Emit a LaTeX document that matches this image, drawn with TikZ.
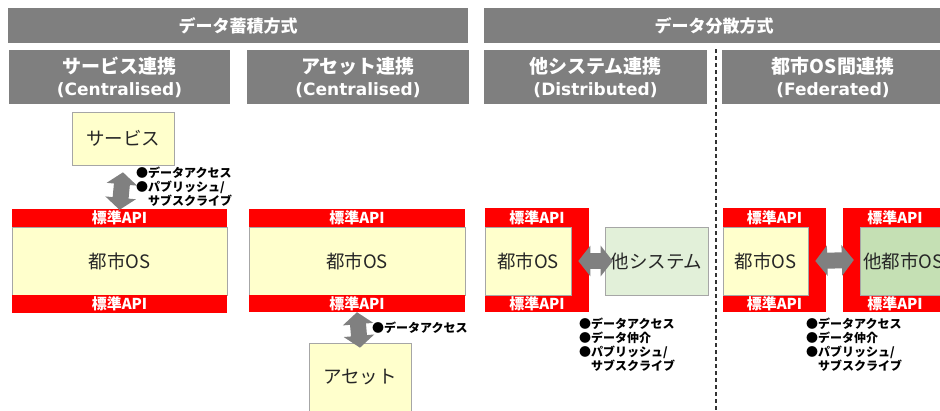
\documentclass[tikz,border=0pt]{standalone}
\usepackage{fontspec}
\setmainfont{Noto Sans CJK JP}
\newfontfamily\latinf{DejaVu Sans Bold}
\usetikzlibrary{arrows.meta}
\definecolor{hdrgray}{HTML}{7F7F7F}
\definecolor{osyellow}{HTML}{FFFFCC}
\definecolor{boxgray}{HTML}{A6A6A6}
\definecolor{lightgreen}{HTML}{E2F0D9}
\definecolor{midgreen}{HTML}{C5E0B4}
\definecolor{arrowgray}{HTML}{808080}
\definecolor{textdark}{HTML}{262626}
\newcommand{\lat}[1]{{\latinf\fontsize{17}{23}\selectfont #1}}
\begin{document}
\begin{tikzpicture}[x=1pt,y=-1pt,
  hdr/.style={fill=hdrgray,text=white,font=\bfseries\fontsize{17}{19}\selectfont,inner sep=0,minimum height=35pt},
  sub/.style={fill=hdrgray,text=white,font=\bfseries\fontsize{19}{22}\selectfont,align=center,inner sep=0,minimum height=54pt},
  api/.style={fill=red,text=white,font=\bfseries\fontsize{15}{15}\selectfont,inner sep=0,minimum height=18pt},
  redframe/.style={fill=red,inner sep=0,minimum height=104pt},
  osbox/.style={fill=osyellow,draw=boxgray,line width=0.6pt,text=textdark,font=\fontsize{18.5}{20}\selectfont,inner sep=0,minimum height=68pt},
  othbox/.style={osbox,fill=lightgreen},
  bigarrow/.style={draw=arrowgray,line width=16pt,{Triangle[length=12pt,width=30pt]}-{Triangle[length=12pt,width=30pt]}},
  lbl/.style={font=\bfseries\fontsize{12}{14}\selectfont,align=left,inner sep=0,anchor=north west,text=black}
]
\useasboundingbox (0,0) rectangle (940,410);
\clip (0,0) rectangle (940,410);

% headers
\node[hdr,minimum width=460pt] (hL) at (238,25.5) {データ蓄積方式};
\node[hdr,minimum width=460pt] (hR) at (714,25.5) {データ分散方式};
\node[sub,minimum width=221pt] (s1) at (119.5,77) {サービス連携\\\lat{(Centralised)}};
\node[sub,minimum width=222pt] (s2) at (358,77) {アセット連携\\\lat{(Centralised)}};
\node[sub,minimum width=223pt] (s3) at (595.5,77) {他システム連携\\\lat{(Distributed)}};
\node[sub,minimum width=222pt] (s4) at (833,77) {都市OS間連携\\\lat{(Federated)}};

% dashed separator
\coordinate (dTop) at (716,49);
\coordinate (dBot) at (716,410);
\draw[dashed,dash pattern=on 4pt off 3pt,line width=1.2pt,draw=black!80] (dTop) -- (dBot);

% column 1: service
\node[osbox,minimum width=102pt,minimum height=53pt] (svc) at (123,138.5) {サービス};
\node[api,minimum width=215pt] (aT1) at (119.5,218) {標準API};
\node[osbox,minimum width=215pt] (os1) at (119.5,261) {都市OS};
\node[api,minimum width=215pt] (aB1) at (119.5,304) {標準API};
\draw[bigarrow] ([yshift=-7pt]svc.south) -- ([yshift=-1pt]aT1.north);
\node[lbl] (l1) at (136,167) {●データアクセス\\●パブリッシュ/\\\phantom{●}サブスクライブ};

% column 2: asset
\node[api,minimum width=216pt] (aT2) at (357,218) {標準API};
\node[osbox,minimum width=216pt] (os2) at (357,261) {都市OS};
\node[api,minimum width=216pt,minimum height=17pt] (aB2) at (357,303.5) {標準API};
\node[osbox,minimum width=102pt] (asset) at (360,377) {アセット};
\draw[bigarrow] (aB2.south) -- ([yshift=-5pt]asset.north);
\node[lbl,anchor=west] (l2) at (372,328) {●データアクセス};

% column 3: distributed
\node[redframe,minimum width=104pt] (rD) at (537,260) {};
\node[osbox,minimum width=86pt] (osD) at (528,261) {都市OS};
\node[api,fill=none] (aTD) at (537,217.5) {標準API};
\node[api,fill=none] (aBD) at (537,303.5) {標準API};
\node[othbox,minimum width=103pt] (oth) at (656.5,261) {他システム};
\draw[bigarrow] ([xshift=7pt]osD.east) -- ([xshift=8pt]oth.west);
\node[lbl] (l3) at (579,318) {●データアクセス\\●データ仲介\\●パブリッシュ/\\\phantom{●}サブスクライブ};

% column 4: federated
\node[redframe,minimum width=103pt] (rF1) at (774.5,260) {};
\node[osbox,minimum width=85pt] (osF) at (765.5,261) {都市OS};
\node[api,fill=none] (aTF1) at (774.5,217.5) {標準API};
\node[api,fill=none] (aBF1) at (774.5,303.5) {標準API};
\node[redframe,minimum width=104pt] (rF2) at (895,260) {};
\node[osbox,fill=midgreen,minimum width=87pt] (osF2) at (903.5,261) {他都市OS};
\node[api,fill=none] (aTF2) at (895,217.5) {標準API};
\node[api,fill=none] (aBF2) at (895,303.5) {標準API};
\draw[bigarrow] ([xshift=7pt]osF.east) -- ([xshift=11pt]rF2.west);
\node[lbl] (l4) at (806,318) {●データアクセス\\●データ仲介\\●パブリッシュ/\\\phantom{●}サブスクライブ};
\end{tikzpicture}
\end{document}
